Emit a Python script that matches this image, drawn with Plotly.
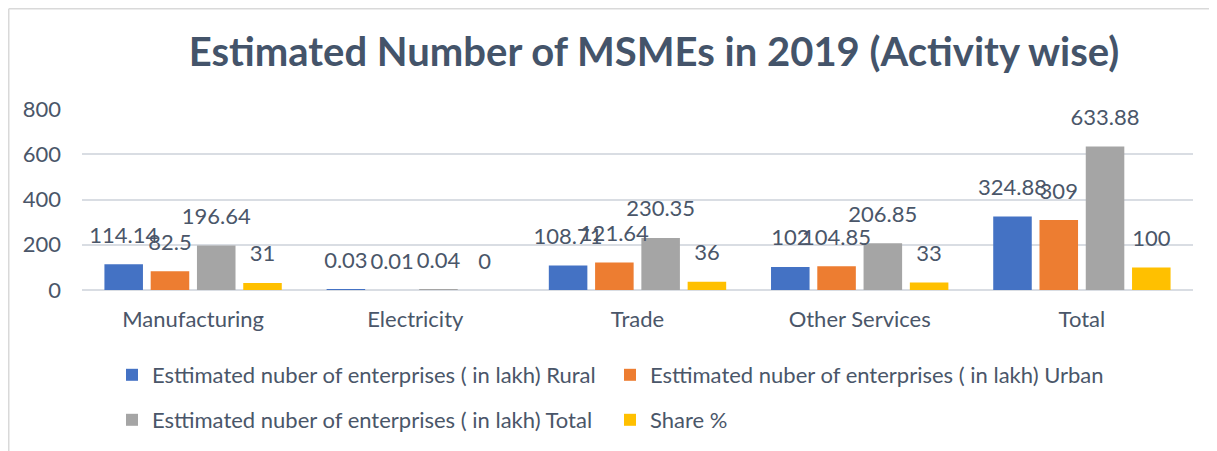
import plotly.graph_objects as go

categories = ["Manufacturing", "Electricity", "Trade", "Other Services", "Total"]
rural = [114.14, 0.03, 108.71, 102, 324.88]
urban = [82.5, 0.01, 121.64, 104.85, 309]
total = [196.64, 0.04, 230.35, 206.85, 633.88]
share = [31, 0, 36, 33, 100]

series_names = [
    "Esttimated nuber of enterprises ( in lakh) Rural",
    "Esttimated nuber of enterprises ( in lakh) Urban",
    "Esttimated nuber of enterprises ( in lakh) Total",
    "Share %",
]
series_values = [rural, urban, total, share]
colors = ["#4472C4", "#ED7D31", "#A5A5A5", "#FFC000"]
legends = ["legend", "legend", "legend2", "legend2"]

# page body has an 8px margin; the figure is sized to fill the remaining window
OFF = 8
W, H = 1217 - OFF, 451 - OFF
L, R, T, B = 82 - OFF, 24, 109 - OFF, 161
pw, ph = W - L - R, H - T - B

FONT = "Lato"
TXT = "#44546A"
LBL = "#4A5669"

fig = go.Figure()
for name, vals, col, lg in zip(series_names, series_values, colors, legends):
    fig.add_trace(go.Bar(
        x=categories, y=vals, name=name, marker=dict(color=col, line=dict(width=0)),
        legend=lg, hoverinfo="x+y+name",
    ))
for name, vals in zip(series_names, series_values):
    fig.add_trace(go.Scatter(
        x=categories, y=vals, name=name, mode="markers+text",
        text=[str(v) for v in vals], textposition="top center",
        marker=dict(size=24, opacity=0), cliponaxis=False, showlegend=False,
        textfont=dict(family=FONT, size=22, color=LBL), hoverinfo="skip",
    ))

legend_font = dict(family=FONT, size=22, color=LBL)
fig.update_layout(
    width=W, height=H,
    margin=dict(l=L, r=R, t=T, b=B, autoexpand=False),
    paper_bgcolor="white", plot_bgcolor="white",
    barmode="group", bargap=0.167, bargroupgap=0.167,
    scattermode="group", scattergap=0.167,
    title=dict(text="<b>Estimated Number of MSMEs in 2019 (Activity wise)</b>",
               font=dict(family=FONT, size=40, color=TXT),
               x=(654 - OFF) / W, xanchor="center", y=1 - (52 - OFF) / H, yanchor="middle"),
    font=dict(family=FONT, color=LBL),
    xaxis=dict(showline=False, ticks="", ticklabelstandoff=14,
               tickfont=dict(family=FONT, size=22, color=LBL)),
    yaxis=dict(range=[0, 800], tickvals=[0, 200, 400, 600, 800], showgrid=True,
               gridcolor="#D9DDE3", gridwidth=1.5, zeroline=True, zerolinecolor="#D9DDE3",
               zerolinewidth=1.5, ticks="", ticklabelstandoff=20,
               tickfont=dict(family=FONT, size=22, color=LBL), showline=False),
    legend=dict(orientation="h", x=(104 - L) / pw, xanchor="left", y=-(375 - OFF - (T + ph)) / ph,
                yanchor="middle", entrywidth=453, entrywidthmode="pixels",
                font=legend_font, bgcolor="rgba(0,0,0,0)"),
    legend2=dict(orientation="h", x=(104 - L) / pw, xanchor="left", y=-(420 - OFF - (T + ph)) / ph,
                 yanchor="middle", entrywidth=453, entrywidthmode="pixels",
                 font=legend_font, bgcolor="rgba(0,0,0,0)"),
    showlegend=True,
)

# chart-area border (left and top edges visible)
bx0 = (0.75 - L) / pw
by1 = 1 + (T - 0.75) / ph
fig.add_shape(type="line", xref="paper", yref="paper", x0=bx0, x1=bx0, y0=-(B) / ph - 0.1, y1=by1,
              line=dict(color="#D9D9D9", width=1.5))
fig.add_shape(type="line", xref="paper", yref="paper", x0=bx0, x1=1 + R / pw + 0.1, y0=by1, y1=by1,
              line=dict(color="#D9D9D9", width=1.5))

fig.write_html("out.html")
